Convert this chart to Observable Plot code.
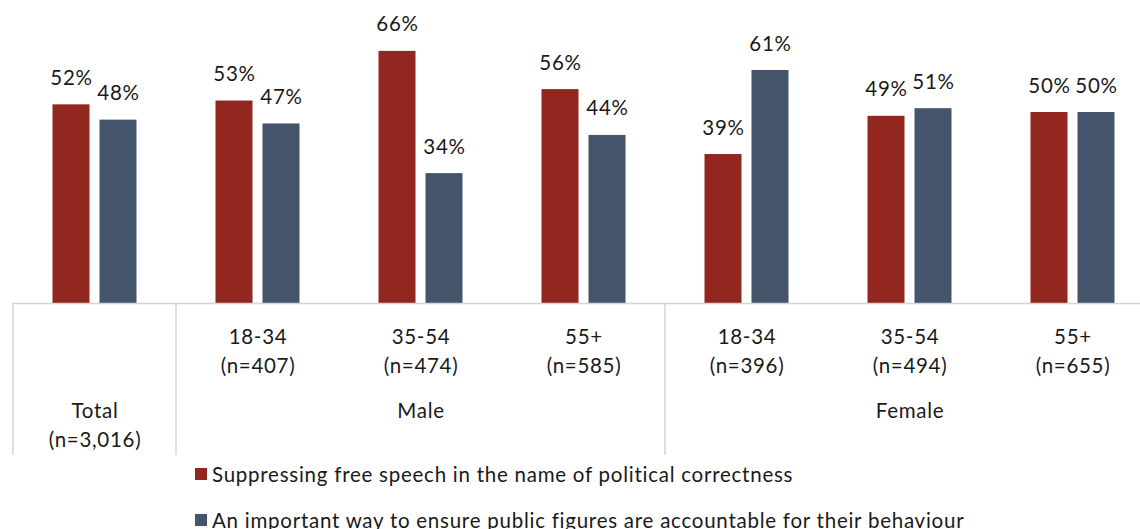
<!DOCTYPE html>
<html>
<head>
<meta charset="utf-8">
<script src="https://cdn.jsdelivr.net/npm/d3@7"></script>
<script src="https://cdn.jsdelivr.net/npm/@observablehq/plot@0.6"></script>
<style>
  html, body { margin: 0; padding: 0; background: #fff; }
  body { font-family: Lato, "Open Sans", sans-serif; color: #1a1a1a; }
  #wrap { position: relative; width: 1140px; height: 529px; overflow: hidden; }
  #wrap svg text { letter-spacing: 0.7px; }
  #legend { position: absolute; left: 195px; top: 460px; font-size: 20.5px; letter-spacing: 0.75px; }
  #legend .row { display: flex; align-items: center; height: 28px; margin-bottom: 18px; white-space: nowrap; }
  #legend .sw { width: 12px; height: 12px; margin-right: 5px; flex: none; }
</style>
</head>
<body>
<div id="wrap"></div>
<script>
// Survey groups shown along the horizontal axis
const groups = ["Total", "Male 18-34", "Male 35-54", "Male 55+", "Female 18-34", "Female 35-54", "Female 55+"];
const ageLabels = ["", "18-34", "35-54", "55+", "18-34", "35-54", "55+"];
const sampleSizes = ["3,016", "407", "474", "585", "396", "494", "655"];

// Share of respondents (%) choosing each description
const seriesNames = [
  "Suppressing free speech in the name of political correctness",
  "An important way to ensure public figures are accountable for their behaviour"
];
const suppressing = [52, 53, 66, 56, 39, 49, 50];
const accountable = [48, 47, 34, 44, 61, 51, 50];

// Top-level headings of the category table
const headings = ["Total\n(n=3,016)", "Male", "Female"];
const headingAt = ["Total", "Male 35-54", "Female 35-54"];
const dividersAt = ["Total", "Male 18-34", "Female 18-34"];

const colors = ["#922720", "#44546a"];

const rows = groups.flatMap((g, i) => [
  {group: g, series: seriesNames[0], value: suppressing[i]},
  {group: g, series: seriesNames[1], value: accountable[i]}
]);
const red = rows.filter(d => d.series === seriesNames[0]);
const blue = rows.filter(d => d.series === seriesNames[1]);

const W = 1140, H = 458, base = 303, tableBottom = 455;
const fs = 20.5;
const ink = "#1a1a1a";

const chart = Plot.plot({
  width: W,
  height: H,
  marginLeft: 12,
  marginRight: 0,
  marginTop: 0,
  marginBottom: H - base,
  style: {fontFamily: "Lato, 'Open Sans', sans-serif", fontSize: fs + "px", color: ink, background: "#fff", overflow: "visible"},
  x: {domain: groups, range: [12.5, 1153.5], padding: 0, axis: null},
  y: {domain: [0, 100], range: [base, base - 382], axis: null},
  marks: [
    Plot.barY(red, {x: "group", y: "value", fill: colors[0], insetLeft: 39.5, insetRight: 86.5}),
    Plot.barY(blue, {x: "group", y: "value", fill: colors[1], insetLeft: 86.5, insetRight: 39.5}),
    Plot.text(red, {x: "group", y: "value", text: d => d.value + "%", dx: -23.5, dy: -26.5, fontSize: fs, fill: ink}),
    Plot.text(blue, {x: "group", y: "value", text: d => d.value + "%", dx: 23.5, dy: -26.5, fontSize: fs, fill: ink}),
    Plot.ruleY([0], {stroke: "#d4d4d4", strokeWidth: 1.5}),
    // age band and sample size under each pair of bars
    Plot.text(groups.map((g, i) => ({g, t: ageLabels[i] ? ageLabels[i] + "\n(n=" + sampleSizes[i] + ")" : ""})), {
      x: "g", y: () => 0, text: "t", lineAnchor: "top", dy: 20.5, lineHeight: 1.385, fontSize: fs, fill: ink
    }),
    // gender / total headings
    Plot.text(headings.map((h, i) => ({h, at: headingAt[i]})), {
      x: "at", y: () => 0, text: "h", lineAnchor: "top", dy: 94, lineHeight: 1.42, fontSize: fs, fill: ink
    })
  ]
});

// Table dividers at the left edge of the Total, Male and Female blocks
const xs = chart.scale("x");
const y0 = chart.scale("y").apply(0);
const svg = d3.select(chart);
svg.append("g")
  .attr("stroke", "#d4d4d4")
  .attr("stroke-width", 1.5)
  .selectAll("line")
  .data(dividersAt)
  .join("line")
  .attr("x1", d => xs.apply(d))
  .attr("x2", d => xs.apply(d))
  .attr("y1", y0)
  .attr("y2", tableBottom);

const wrap = document.getElementById("wrap");
wrap.appendChild(chart);

const legend = document.createElement("div");
legend.id = "legend";
seriesNames.forEach((name, i) => {
  const row = document.createElement("div");
  row.className = "row";
  const sw = document.createElement("span");
  sw.className = "sw";
  sw.style.background = colors[i];
  const label = document.createElement("span");
  label.textContent = name;
  row.appendChild(sw);
  row.appendChild(label);
  legend.appendChild(row);
});
wrap.appendChild(legend);
</script>
</body>
</html>
